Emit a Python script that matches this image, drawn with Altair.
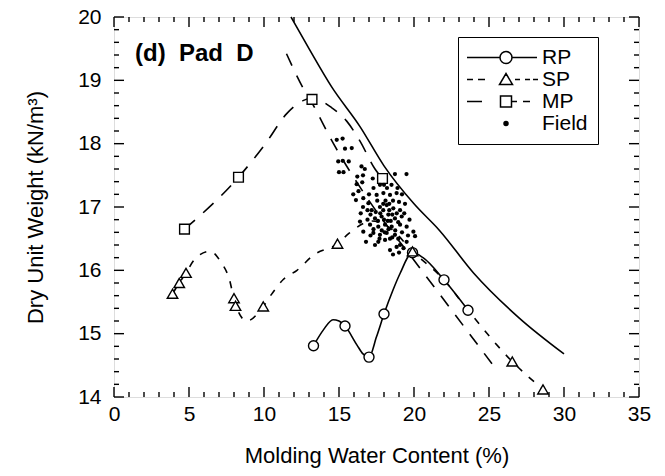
import altair as alt
import pandas as pd

FONT = "Liberation Sans"
W, H = 525, 380

# ---------------- data ----------------
# RP compaction points (circles) and curve path
rp_w = [13.3, 15.4, 17.0, 18.0, 19.9, 22.0, 23.6]
rp_gd = [14.81, 15.12, 14.63, 15.31, 16.28, 15.85, 15.37]
rp_curve_w = [13.3, 13.96, 14.6, 15.0, 15.4, 16.2, 16.6, 17.0, 17.5, 18.0, 18.6, 19.07, 19.9, 20.6, 22.0, 23.6]
rp_curve_gd = [14.81, 15.06, 15.22, 15.2, 15.12, 14.82, 14.68, 14.63, 14.95, 15.31, 15.69, 15.95, 16.28, 16.2, 15.85, 15.37]

# SP compaction points (triangles) and curve path
sp_w = [3.9, 4.35, 4.8, 8.0, 8.1, 9.95, 14.9, 19.9, 26.55, 28.6]
sp_gd = [15.63, 15.8, 15.96, 15.56, 15.44, 15.43, 16.42, 16.3, 14.56, 14.12]
sp_curve_w = [3.9, 4.35, 4.8, 5.4, 6.4, 7.1, 7.7, 8.05, 8.85, 9.95, 10.5, 11.3, 12.2, 13.3, 14.9, 15.7,
              17.2, 18.5, 19.9, 22.0, 23.6, 26.55, 28.6]
sp_curve_gd = [15.63, 15.8, 15.96, 16.18, 16.3, 16.14, 15.85, 15.5, 15.2, 15.43, 15.62, 15.86, 16.0, 16.24, 16.42, 16.59,
               16.78, 16.65, 16.3, 15.85, 15.37, 14.56, 14.12]

# MP compaction points (squares) and curve path
mp_w = [4.7, 8.3, 13.2, 17.9]
mp_gd = [16.65, 17.47, 18.7, 17.45]
mp_curve_w = [4.7, 8.3, 10.1, 11.5, 12.6, 13.2, 14.5, 15.5, 16.4, 17.4, 17.9]
mp_curve_gd = [16.65, 17.47, 18.0, 18.47, 18.68, 18.72, 18.57, 18.36, 18.04, 17.6, 17.45]

# long-dashed line without markers
ld_w = [11.5, 12.6, 13.3, 14.4, 17.0, 20.0, 25.5]
ld_gd = [19.42, 18.88, 18.6, 18.1, 17.1, 16.16, 14.43]

# solid line without markers
sl_w = [11.8, 13.0, 14.5, 16.4, 18.0, 20.0, 21.7, 24.0, 27.0, 30.0]
sl_gd = [20.0, 19.5, 18.9, 18.27, 17.65, 17.05, 16.63, 15.95, 15.25, 14.68]

# field measurements
field_w = [14.85, 15.24, 15.4, 15.85, 14.95, 15.25, 15.65, 15.0, 15.3, 16.5, 16.72, 16.22, 16.6, 16.18, 16.55,
           15.95, 16.3, 18.73, 19.5,
           17.73, 16.13, 16.62, 16.96, 17.51, 17.96, 18.4, 18.84, 17.18, 17.73, 18.18, 18.62, 19.07, 17.4, 17.84,
           18.29, 18.73, 19.18, 16.4, 17.07, 17.62, 18.07, 18.51, 19.07, 19.51, 16.62, 17.29, 17.73, 18.18, 18.73,
           19.96, 20.07, 17.62, 18.07, 18.4, 18.84, 19.07, 19.51,
           17.45, 17.95, 18.35, 18.85, 17.6, 18.0, 18.45, 18.95, 17.3, 17.85, 18.3, 18.75, 19.2, 17.55, 18.1, 18.6,
           19.0, 17.1, 16.9, 19.35, 19.4, 18.2, 18.5, 17.7, 18.4, 18.95, 19.3, 17.1, 16.9, 16.6, 17.3, 18.0, 18.9,
           19.2, 17.0, 16.8, 17.4, 19.7, 19.6, 18.6, 19.0, 16.45, 17.25, 18.55, 17.75, 18.25, 18.05, 18.55, 17.95,
           18.35]
field_gd = [18.06, 18.08, 17.92, 17.93, 17.72, 17.73, 17.72, 17.55, 17.55, 17.64, 17.6, 17.48, 17.5, 17.36, 17.39,
            17.2, 17.25, 17.52, 17.52,
            17.35, 17.11, 17.14, 17.06, 17.19, 17.22, 17.19, 17.22, 16.95, 17.0, 17.03, 16.98, 16.95, 16.82, 16.85,
            16.88, 16.82, 16.85, 16.77, 16.72, 16.69, 16.72, 16.69, 16.72, 16.69, 16.61, 16.59, 16.56, 16.59, 16.56,
            16.61, 16.54, 16.45, 16.48, 16.32, 16.37, 16.4, 16.45,
            16.92, 16.95, 16.95, 16.9, 16.78, 16.8, 16.78, 16.76, 16.65, 16.63, 16.65, 16.63, 16.6, 17.1, 17.1, 17.1,
            17.08, 16.88, 16.8, 16.9, 17.05, 17.3, 17.35, 16.5, 16.5, 16.5, 16.35, 16.55, 16.95, 17.0, 17.3, 17.35,
            17.3, 17.2, 17.2, 16.45, 16.4, 16.8, 16.55, 16.25, 16.28, 16.9, 17.45, 16.88, 16.9, 16.78, 16.6, 16.52,
            17.05, 17.05]

series = ["RP", "SP", "MP", "Field"]
panel_label = "(d)\u00a0\u00a0Pad\u00a0\u00a0D"

# axis tick values
x_major = [0, 5, 10, 15, 20, 25, 30, 35]
x_minor = [v for v in range(36) if v % 5]
y_major = [14, 15, 16, 17, 18, 19, 20]
y_minor = [round(14 + 0.2 * i, 1) for i in range(31) if i % 5]

# ---------------- chart ----------------
xs = alt.Scale(domain=[0, 35], nice=False, zero=False)
ys = alt.Scale(domain=[14, 20], nice=False, zero=False)

x_axis = alt.Axis(values=x_major, title="Molding Water Content (%)", ticks=False, domain=False, grid=False,
                  labelFont=FONT, labelFontSize=21, labelColor="black", labelPadding=6, labelFlush=False,
                  labelOverlap=False, titleFont=FONT, titleFontSize=22, titleFontWeight="normal",
                  titleColor="black", titlePadding=21)
y_axis = alt.Axis(values=y_major, title="Dry Unit Weight (kN/m³)", ticks=False, domain=False, grid=False,
                  labelFont=FONT, labelFontSize=21, labelColor="black", labelPadding=13, labelFlush=False,
                  labelOverlap=False, titleFont=FONT, titleFontSize=22, titleFontWeight="normal",
                  titleColor="black", titlePadding=30)


def X(f):
    return alt.X(f"{f}:Q", scale=xs, axis=x_axis)


def Y(f):
    return alt.Y(f"{f}:Q", scale=ys, axis=y_axis)


def curve(ws, gds, dash=None):
    kw = dict(interpolate="monotone", color="black", strokeWidth=1.6)
    if dash:
        kw["strokeDash"] = dash
    return alt.Chart(pd.DataFrame({"w": ws, "gd": gds})).mark_line(**kw).encode(x=X("w"), y=Y("gd"))


def markers(ws, gds, shape, size):
    return alt.Chart(pd.DataFrame({"w": ws, "gd": gds})).mark_point(
        shape=shape, size=size, filled=True, fill="white", stroke="black", strokeWidth=1.4, opacity=1
    ).encode(x=X("w"), y=Y("gd"))


def xticks(vals, length, top):
    y0, y1 = (0, length) if top else (H, H - length)
    return alt.Chart(pd.DataFrame({"t": vals})).mark_rule(color="black", strokeWidth=1.4).encode(
        x=X("t"), y=alt.value(y0), y2=alt.value(y1))


def yticks(vals, length, right):
    x0, x1 = (W, W - length) if right else (0, length)
    return alt.Chart(pd.DataFrame({"t": vals})).mark_rule(color="black", strokeWidth=1.4).encode(
        y=Y("t"), x=alt.value(x0), x2=alt.value(x1))


# legend symbols (line + marker glyphs), unit = 5 px
p_rp = "M-7.8,0L-1.2,0M1.2,0L6.2,0M1.2,0A1.2,1.2,0,1,1,-1.2,0A1.2,1.2,0,1,1,1.2,0"
p_sp = ("M-7.8,0L-6.6,0M-5.6,0L-4.2,0M-1.3,1L1.3,1L0,-1.2Z"
        "M1.8,0L2.8,0M3.8,0L4.8,0M5.4,0L6.4,0")
p_mp = "M-7.8,0L-4.8,0M-1.1,-1.1L1.1,-1.1L1.1,1.1L-1.1,1.1ZM1.1,0L2.2,0M3.4,0L4.8,0"
p_fd = ("M0.4,0A0.4,0.4,0,1,1,-0.4,0A0.4,0.4,0,1,1,0.4,0"
        "M0.15,0A0.15,0.15,0,1,1,-0.15,0A0.15,0.15,0,1,1,0.15,0")

leg_df = pd.DataFrame({"w": [rp_w[0], sp_w[0], mp_w[0], field_w[0]],
                       "gd": [rp_gd[0], sp_gd[0], mp_gd[0], field_gd[0]],
                       "series": series})
legend_layer = alt.Chart(leg_df).mark_point(opacity=0, filled=False, color="black").encode(
    x=X("w"), y=Y("gd"),
    shape=alt.Shape("series:N", scale=alt.Scale(domain=series, range=[p_rp, p_sp, p_mp, p_fd]),
                    legend=alt.Legend(title=None, orient="none", legendX=344, legendY=20, direction="vertical",
                                      symbolSize=100, symbolStrokeWidth=1.5, symbolStrokeColor="black",
                                      symbolFillColor="transparent", symbolOpacity=1, symbolOffset=27.5,
                                      labelOffset=25.5, labelFont=FONT, labelFontSize=21, labelColor="black",
                                      labelExpr="datum.label + '\u00a0\u00a0\u00a0'",
                                      labelLimit=300, rowPadding=0, padding=10, strokeColor="black",
                                      fillColor="white", cornerRadius=0)))

field = alt.Chart(pd.DataFrame({"w": field_w, "gd": field_gd})).mark_circle(
    size=18, color="black", opacity=1).encode(x=X("w"), y=Y("gd"))

label_layer = alt.Chart(pd.DataFrame({"txt": [panel_label]})).mark_text(
    align="left", baseline="alphabetic", font=FONT, fontSize=24, fontWeight="bold", color="black"
).encode(text="txt:N", x=alt.value(21), y=alt.value(44))

layers = [
    xticks(x_major, 10, False), xticks(x_minor, 5, False), xticks(x_major, 10, True), xticks(x_minor, 5, True),
    yticks(y_major, 10, False), yticks(y_minor, 5, False), yticks(y_major, 10, True), yticks(y_minor, 5, True),
    curve(sl_w, sl_gd),
    curve(ld_w, ld_gd, [13, 11]),
    curve(mp_curve_w, mp_curve_gd, [14, 11]),
    curve(sp_curve_w, sp_curve_gd, [7, 9]),
    curve(rp_curve_w, rp_curve_gd),
    markers(rp_w, rp_gd, "circle", 100),
    markers(sp_w, sp_gd, "triangle-up", 110),
    markers(mp_w, mp_gd, "square", 95),
    field,
    label_layer,
    legend_layer,
]

chart = alt.layer(*layers).properties(
    width=W, height=H,
    autosize="none",
    padding={"left": 114, "top": 17, "right": 26, "bottom": 79},
).configure_view(stroke="black", strokeWidth=1.6).configure(background="white")

chart.save("out.html", embed_options={"renderer": "svg", "actions": False})
